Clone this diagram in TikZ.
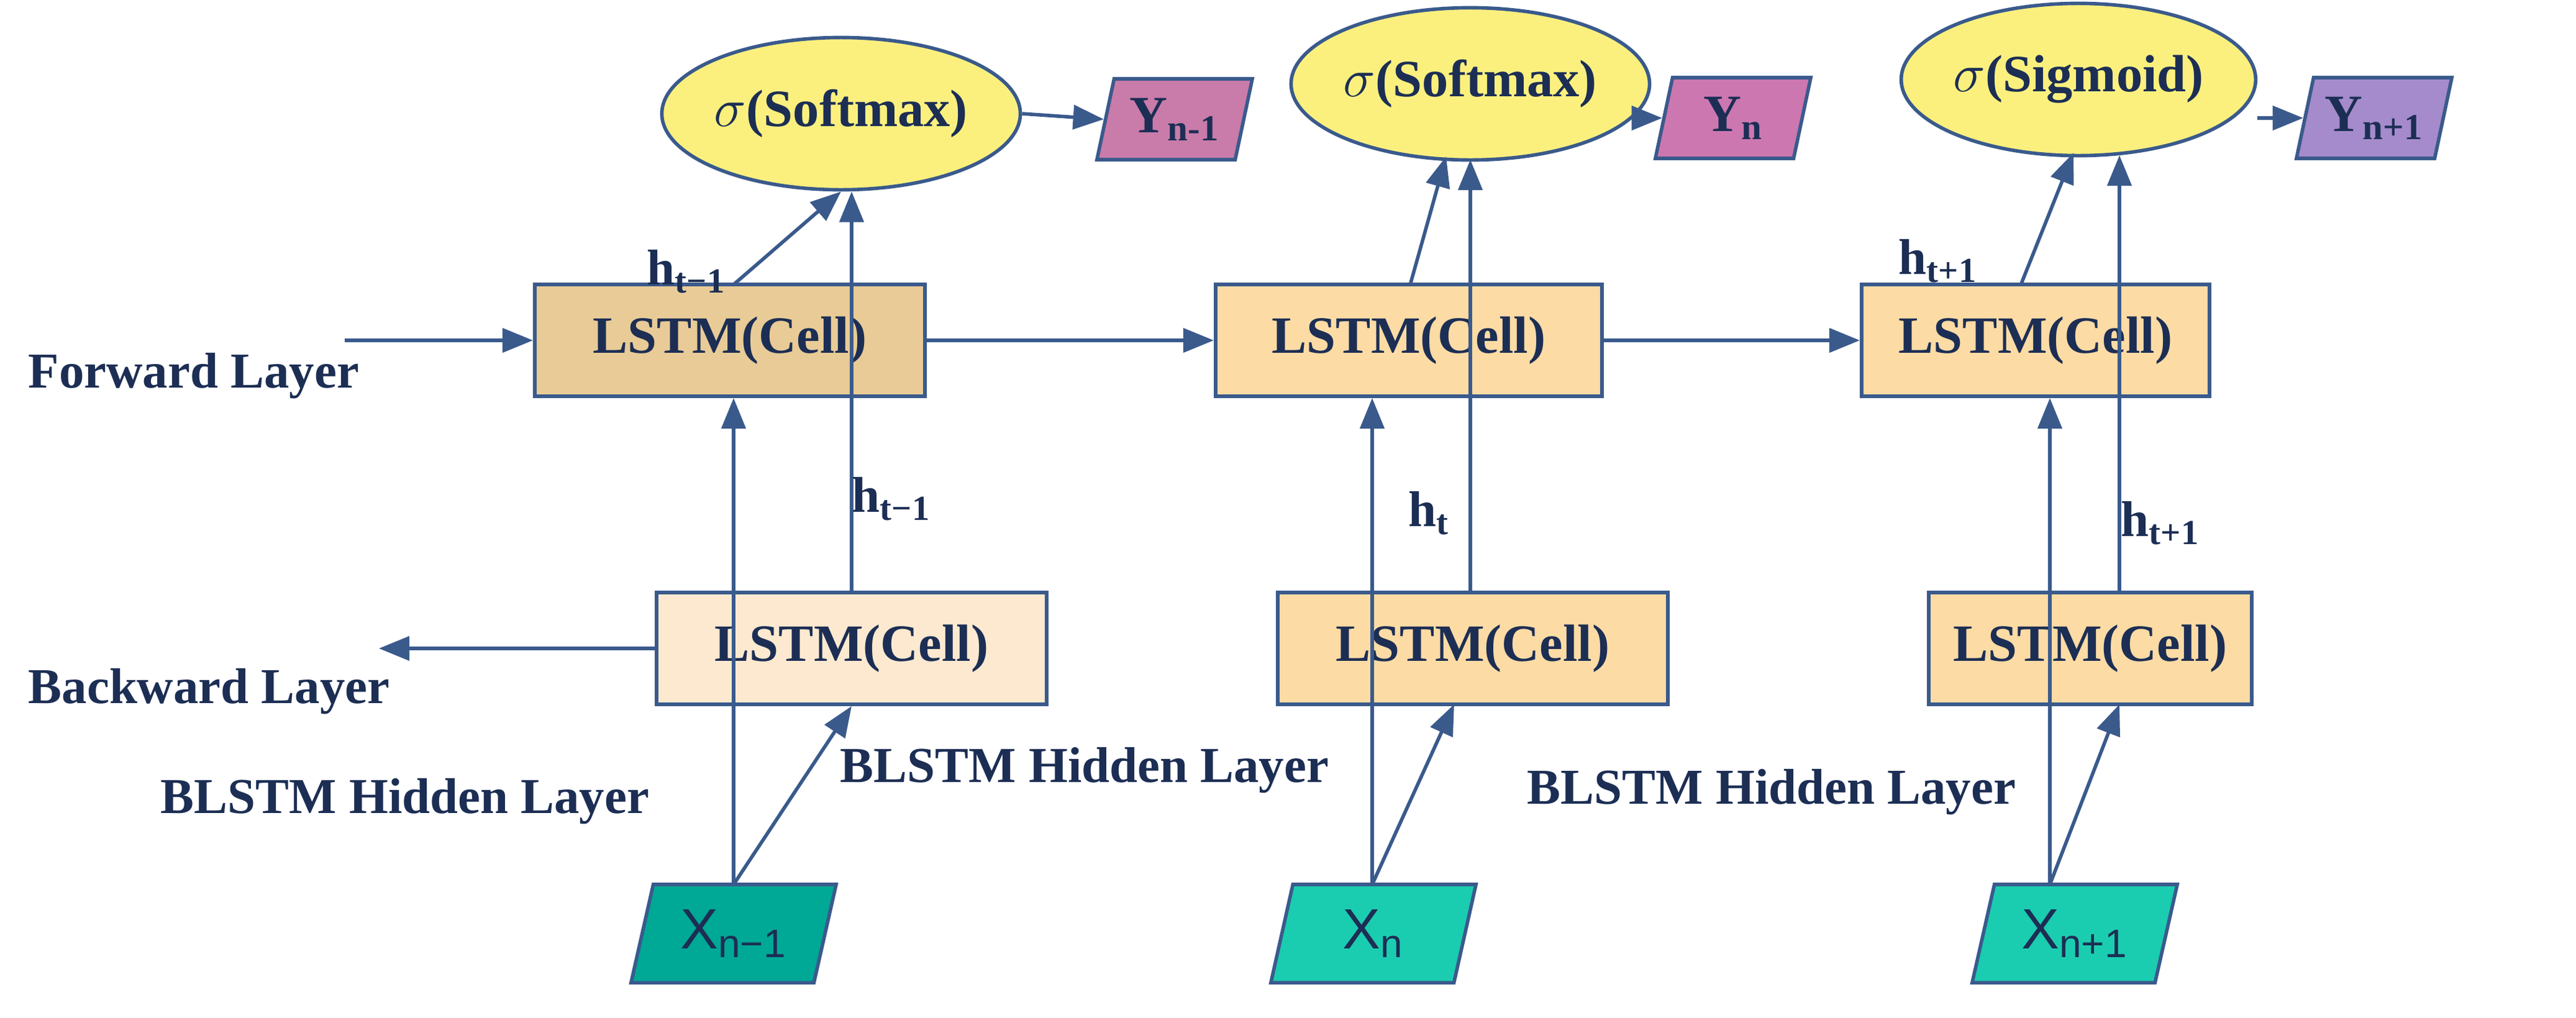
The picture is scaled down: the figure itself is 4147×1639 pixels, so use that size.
\documentclass[tikz,border=0pt]{standalone}
\usepackage{fontspec}
\setmainfont{Liberation Serif}
\newfontfamily\sansf{Liberation Sans}
\usetikzlibrary{shapes.geometric,arrows.meta}
\definecolor{ln}{HTML}{3A5A8C}
\definecolor{tx}{HTML}{1C2E54}
\definecolor{cA}{HTML}{E8CB96}
\definecolor{cB}{HTML}{FDDBA5}
\definecolor{cC}{HTML}{FDE9D0}
\definecolor{yel}{HTML}{FBF07E}
\definecolor{pA}{HTML}{C97BA9}
\definecolor{pB}{HTML}{CC77B0}
\definecolor{pC}{HTML}{A58BCB}
\definecolor{gA}{HTML}{00A896}
\definecolor{gB}{HTML}{1BCDB0}
\begin{document}
\begin{tikzpicture}[x=0.01cm,y=-0.01cm,
  every node/.style={text=tx,font=\bfseries\fontsize{24}{28}\selectfont},
  cell/.style={draw=ln,line width=1.6pt,minimum width=6.28cm,minimum height=1.8cm,inner sep=0pt},
  sig/.style={ellipse,draw=ln,line width=1.6pt,fill=yel,minimum width=4.8cm,minimum height=2.45cm,inner sep=0pt},
  par/.style={trapezium,trapezium left angle=68,trapezium right angle=112,trapezium stretches body,draw=ln,line width=1.6pt,minimum width=2.5cm,minimum height=1.3cm,inner sep=0pt},
  xin/.style={trapezium,trapezium left angle=65,trapezium right angle=115,trapezium stretches body,draw=ln,line width=1.6pt,minimum width=3.3cm,minimum height=1.58cm,inner sep=0pt,font=\sansf\fontsize{26}{30}\selectfont},
  arr/.style={draw=ln,line width=1.6pt,-{Triangle[length=14pt,width=11pt]}},
  lbl/.style={inner sep=0pt,font=\bfseries\fontsize{23}{27}\selectfont}]
\useasboundingbox (0,0) rectangle (4147,1639);
% forward cells
\node[cell,fill=cA] (f1) at (1175,548) {LSTM(Cell)};
\node[cell,fill=cB,minimum width=6.22cm] (f2) at (2268,548) {LSTM(Cell)};
\node[cell,fill=cB,minimum width=5.6cm] (f3) at (3277,548) {LSTM(Cell)};
% backward cells
\node[cell,fill=cC] (b1) at (1371,1044) {LSTM(Cell)};
\node[cell,fill=cB] (b2) at (2371,1044) {LSTM(Cell)};
\node[cell,fill=cB,minimum width=5.2cm] (b3) at (3365,1044) {LSTM(Cell)};
% ellipses
\node[sig] (e1) at (1354,183) {$\sigma$(Softmax)};
\node[sig] (e2) at (2367,135) {$\sigma$(Softmax)};
\node[sig] (e3) at (3346,128) {$\sigma$(Sigmoid)};
% outputs
\node[par,fill=pA] (y1) at (1891,192) {Y\textsubscript{n-1}};
\node[par,fill=pB] (y2) at (2790,190) {Y\textsubscript{n}};
\node[par,fill=pC] (y3) at (3822,190) {Y\textsubscript{n+1}};
% inputs
\node[xin,fill=gA] (x1) at (1181,1503) {X\textsubscript{n−1}};
\node[xin,fill=gB] (x2) at (2211,1503) {X\textsubscript{n}};
\node[xin,fill=gB] (x3) at (3340,1503) {X\textsubscript{n+1}};
% side coordinates
\coordinate (fin) at (555,548);
\coordinate (bout) at (610,1044);
\coordinate (s1) at (1181,1424);
\coordinate (s2) at (2209,1424);
\coordinate (s3) at (3300,1424);
\coordinate (t2) at (2328,252);
\coordinate (t3) at (3338,246);
% forward chain
\draw[arr] (fin) -- (f1.west);
\draw[arr] (f1.east) -- (f2.west);
\draw[arr] (f2.east) -- (f3.west);
\draw[arr] (b1.west) -- (bout);
% inputs up
\draw[arr] (s1) -- (s1 |- f1.south);
\draw[arr] (s1) -- (b1.south);
\draw[arr] (s2) -- (s2 |- f2.south);
\draw[arr] (s2) -- (2341,1134);
\draw[arr] (s3) -- (s3 |- f3.south);
\draw[arr] (s3) -- (3412,1134);
% cells to sigma
\draw[arr] (1180,459) -- (e1.south);
\draw[arr] (b1.north) -- (b1.north |- e1.south);
\draw[arr] (2270,459) -- (t2);
\draw[arr] (2367,954) -- (2367,257);
\draw[arr] (3253,459) -- (t3);
\draw[arr] (3412,954) -- (3412,250);
% sigma to outputs
\draw[arr] (e1.east) -- (y1.west);
\draw[arr] (e2.east |- y2.west) -- (y2.west);
\draw[arr] (e3.east |- y3.west) -- (y3.west);
% labels
\node[lbl] (h1) at (1105,437) {h\textsubscript{t−1}};
\node[lbl] (h2) at (1435,803) {h\textsubscript{t−1}};
\node[lbl] (h3) at (2300,826) {h\textsubscript{t}};
\node[lbl] (h4) at (3120,420) {h\textsubscript{t+1}};
\node[lbl] (h5) at (3478,842) {h\textsubscript{t+1}};
\node[lbl,anchor=west] (l1) at (45,605) {Forward Layer};
\node[lbl,anchor=west] (l2) at (45,1113) {Backward Layer};
\node[lbl,anchor=west] (l3) at (258,1290) {BLSTM Hidden Layer};
\node[lbl,anchor=west] (l4) at (1352,1240) {BLSTM Hidden Layer};
\node[lbl,anchor=west] (l5) at (2458,1275) {BLSTM Hidden Layer};
\end{tikzpicture}
\end{document}
